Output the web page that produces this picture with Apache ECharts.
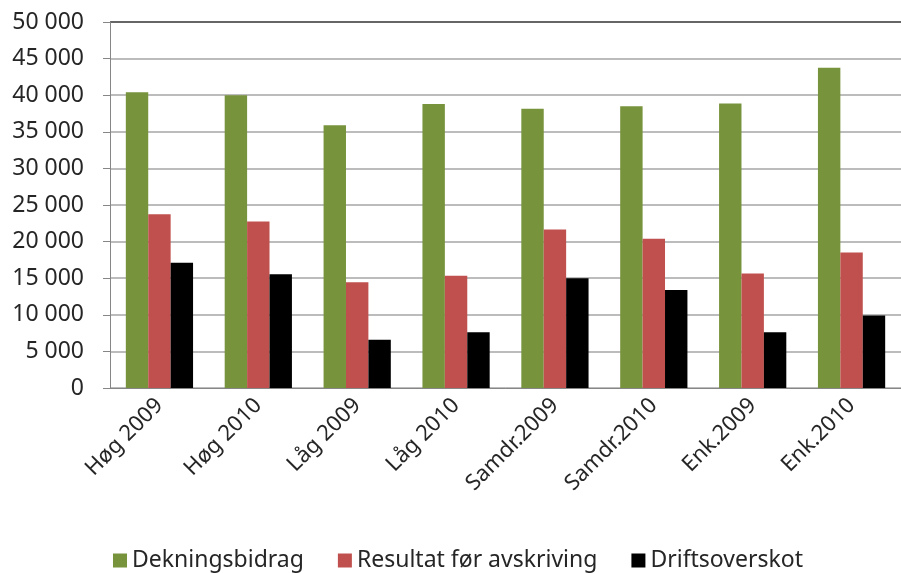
<!DOCTYPE html>
<html>
<head>
<meta charset="utf-8">
<script src="https://cdn.jsdelivr.net/npm/echarts@6/dist/echarts.min.js"></script>
<style>
  html, body { margin: 0; padding: 0; background: #fff; }
  #chart { width: 901px; height: 573px; }
</style>
</head>
<body>
<div id="chart"></div>
<script>
// kategoriar og verdiar lest av figuren
const categories = ['Høg 2009', 'Høg 2010', 'Låg 2009', 'Låg 2010', 'Samdr.2009', 'Samdr.2010', 'Enk.2009', 'Enk.2010'];
const dekningsbidrag = [40400, 40000, 35900, 38800, 38150, 38500, 38850, 43750];
const resultatForAvskriving = [23750, 22750, 14450, 15350, 21650, 20400, 15650, 18500];
const driftsoverskot = [17100, 15550, 6600, 7600, 15000, 13400, 7600, 9900];
const seriesNames = ['Dekningsbidrag', 'Resultat før avskriving', 'Driftsoverskot'];

const fontFam = 'Noto Sans';
const textCol = '#262626';

function fmt(v) {
  return String(v).replace(/\B(?=(\d{3})+(?!\d))/g, ' ');
}

let chart = echarts.init(document.getElementById('chart'));
chart.setOption({
  animation: false,
  grid: { left: 110, top: 22, width: 800, height: 366 },
  legend: {
    left: 108,
    top: 544,
    itemWidth: 14,
    itemHeight: 14,
    itemGap: 34,
    icon: 'rect',
    textStyle: { fontFamily: fontFam, fontSize: 23, color: textCol },
    data: seriesNames
  },
  xAxis: {
    type: 'category',
    data: categories,
    axisLine: { lineStyle: { color: '#868686' } },
    axisTick: { length: 6, lineStyle: { color: '#868686' } },
    axisLabel: {
      rotate: 45,
      margin: 14,
      fontFamily: fontFam,
      fontSize: 22,
      color: textCol
    }
  },
  yAxis: {
    type: 'value',
    min: 0,
    max: 50000,
    interval: 5000,
    axisLine: { show: true, lineStyle: { color: '#868686' } },
    axisTick: { show: true, length: 7, lineStyle: { color: '#868686' } },
    axisLabel: {
      margin: 26,
      fontFamily: fontFam,
      fontSize: 23,
      color: textCol,
      formatter: fmt
    },
    splitLine: {
      lineStyle: {
        color: ['#a6a6a6', '#a6a6a6', '#a6a6a6', '#a6a6a6', '#a6a6a6', '#a6a6a6',
                '#a6a6a6', '#a6a6a6', '#a6a6a6', '#a6a6a6', '#333333'],
        width: 1.5
      }
    }
  },
  series: [
    {
      name: seriesNames[0],
      type: 'bar',
      data: dekningsbidrag,
      barGap: '0%',
      barCategoryGap: '32%',
      itemStyle: { color: '#77933c' }
    },
    {
      name: seriesNames[1],
      type: 'bar',
      data: resultatForAvskriving,
      itemStyle: { color: '#c0504d' }
    },
    {
      name: seriesNames[2],
      type: 'bar',
      data: driftsoverskot,
      itemStyle: { color: '#000000' }
    }
  ]
});
window.onresize = function () {
  chart.resize();
};
</script>
</body>
</html>
